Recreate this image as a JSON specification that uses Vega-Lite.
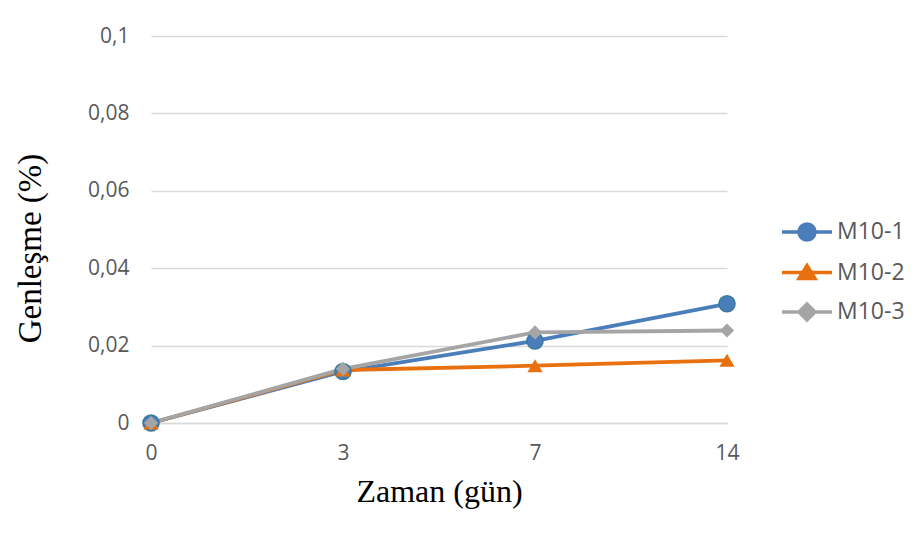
{
  "$schema": "https://vega.github.io/schema/vega-lite/v6.json",
  "autosize": "none",
  "width": 576,
  "height": 387,
  "padding": {"left": 151, "top": 36, "right": 190, "bottom": 120},
  "background": "white",
  "data": {"values": [
    {"gun": "0", "seri": "M10-1", "genlesme": 0},
    {"gun": "3", "seri": "M10-1", "genlesme": 0.0133},
    {"gun": "7", "seri": "M10-1", "genlesme": 0.0212},
    {"gun": "14", "seri": "M10-1", "genlesme": 0.0308},
    {"gun": "0", "seri": "M10-2", "genlesme": 0},
    {"gun": "3", "seri": "M10-2", "genlesme": 0.0137},
    {"gun": "7", "seri": "M10-2", "genlesme": 0.0148},
    {"gun": "14", "seri": "M10-2", "genlesme": 0.0162},
    {"gun": "0", "seri": "M10-3", "genlesme": 0},
    {"gun": "3", "seri": "M10-3", "genlesme": 0.014},
    {"gun": "7", "seri": "M10-3", "genlesme": 0.0234},
    {"gun": "14", "seri": "M10-3", "genlesme": 0.0239}
  ]},
  "encoding": {
    "x": {
      "field": "gun", "type": "ordinal", "sort": ["0", "3", "7", "14"],
      "scale": {"type": "point", "padding": 0},
      "axis": {
        "title": "Zaman (gün)", "titleFont": "Liberation Serif", "titleFontSize": 32, "titleFontWeight": "normal", "titleColor": "#000000", "titlePadding": 13,
        "labelAngle": 0, "labelFont": "Open Sans", "labelFontSize": 21, "labelColor": "#595959", "labelPadding": 19,
        "ticks": false, "domain": true, "domainColor": "#D9D9D9", "domainWidth": 1.5, "grid": false
      }
    },
    "y": {
      "field": "genlesme", "type": "quantitative",
      "scale": {"domain": [0, 0.1], "nice": false},
      "axis": {
        "values": [0, 0.02, 0.04, 0.06, 0.08, 0.1],
        "labelExpr": "replace(format(datum.value, '~g'), '.', ',')",
        "title": "Genleşme (%)", "titleFont": "Liberation Serif", "titleFontSize": 33, "titleFontWeight": "normal", "titleColor": "#000000", "titlePadding": 40, "titleY": 212,
        "labelFont": "Open Sans", "labelFontSize": 21, "labelColor": "#595959", "labelPadding": 22,
        "ticks": false, "domain": false, "grid": true, "gridColor": "#D9D9D9", "gridWidth": 1.5
      }
    },
    "color": {
      "field": "seri", "type": "nominal",
      "scale": {"domain": ["M10-1", "M10-2", "M10-3"], "range": ["#4A7EBB", "#E8700F", "#A5A5A5"]},
      "legend": {
        "title": null, "orient": "none", "legendX": 644, "legendY": 184,
        "labelFont": "Open Sans", "labelFontSize": 23, "labelColor": "#595959", "labelOffset": 18,
        "rowPadding": 11.5, "symbolSize": 400,
        "encode": {
          "symbols": {"update": {
            "shape": {"signal": "datum.value == 'M10-1' ? 'M-2.5,0L-0.8,0M0.8,0L2.5,0M-0.8,0A0.8,0.8 0 1,0 0.8,0A0.8,0.8 0 1,0 -0.8,0Z' : datum.value == 'M10-2' ? 'M-2.5,0L2.5,0M-0.8,0.6L0,-0.7L0.8,0.6Z' : 'M-2.5,0L2.5,0M-0.8,0L0,-0.8L0.8,0L0,0.8Z'"},
            "fill": {"signal": "datum.value == 'M10-1' ? '#4A7EBB' : datum.value == 'M10-2' ? '#E8700F' : '#A5A5A5'"},
            "stroke": {"signal": "datum.value == 'M10-1' ? '#4A7EBB' : datum.value == 'M10-2' ? '#E8700F' : '#A5A5A5'"},
            "strokeWidth": {"value": 3.5},
            "opacity": {"value": 1}
          }}
        }
      }
    }
  },
  "layer": [
    {"mark": {"type": "line", "strokeWidth": 3.8}},
    {
      "transform": [{"filter": "datum.seri == 'M10-1'"}],
      "mark": {"type": "point", "shape": "circle", "filled": true, "opacity": 1, "size": 260, "stroke": "#3A7A9E", "strokeWidth": 1.5}
    },
    {
      "transform": [{"filter": "datum.seri == 'M10-2'"}],
      "mark": {"type": "point", "shape": "triangle-up", "filled": true, "opacity": 1, "size": 230}
    },
    {
      "transform": [{"filter": "datum.seri == 'M10-3'"}],
      "mark": {"type": "point", "shape": "diamond", "filled": true, "opacity": 1, "size": 200}
    }
  ],
  "config": {"view": {"stroke": null}}
}
